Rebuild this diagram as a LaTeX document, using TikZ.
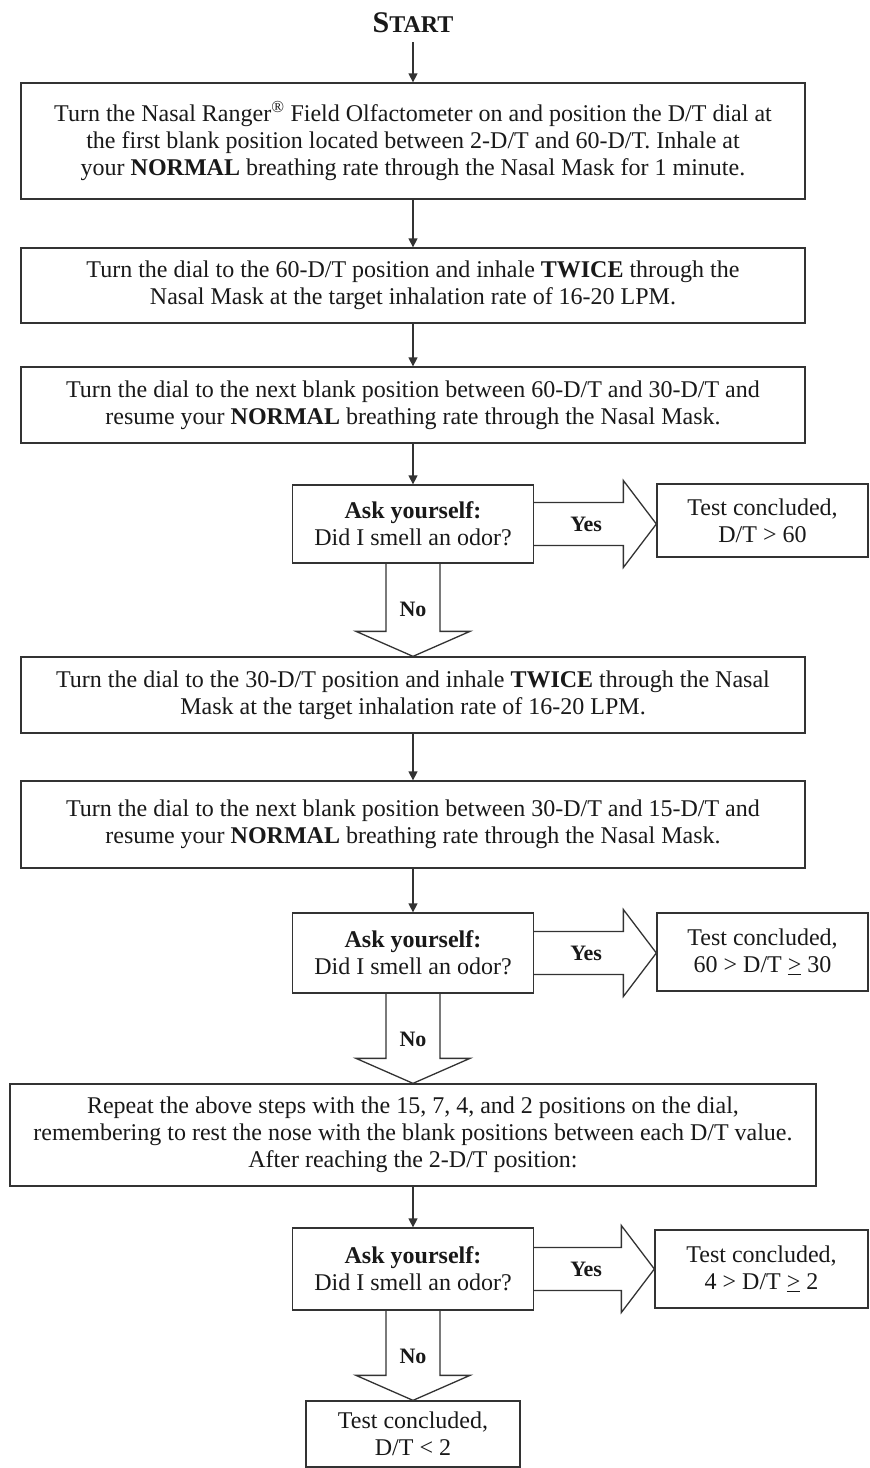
\documentclass[tikz,border=0pt]{standalone}
\usepackage{fontspec}
\setmainfont{Liberation Serif}
\usetikzlibrary{arrows.meta,calc}

\tikzset{
  stepbox/.style={draw=black!80, line width=1.3pt, align=center, inner sep=0pt,
    text=black!90, font=\fontsize{24}{27}\selectfont},
  flow/.style={draw=black!80, line width=1.3pt, -{Triangle[length=9pt,width=9pt]}},
  blockarr/.style={draw=black!80, line width=1.3pt, line join=miter},
  lbl/.style={text=black!90, font=\bfseries\fontsize{22}{26}\selectfont, inner sep=0pt}
}

% Yes arrow: question box -> result box
\newcommand{\yesarrow}[3]{%
  \draw[blockarr] let \p1=(#1.east), \p2=(#2.west) in
    (\x1,\y1+21.5pt) -- (\x2-33pt,\y1+21.5pt) -- (\x2-33pt,\y1+43.5pt) -- (\x2,\y1)
    -- (\x2-33pt,\y1-43.5pt) -- (\x2-33pt,\y1-21.5pt) -- (\x1,\y1-21.5pt);
  \node[lbl] (#3) at ($(#1.east)+(52,0)$) {Yes};
}
% No arrow: question box -> next box below
\newcommand{\noarrow}[3]{%
  \draw[blockarr] let \p1=(#1.south), \p2=(#2.north) in
    (\x1-27pt,\y1) -- (\x1-27pt,\y2+25pt) -- (\x1-57pt,\y2+25pt) -- (\x1,\y2)
    -- (\x1+57pt,\y2+25pt) -- (\x1+27pt,\y2+25pt) -- (\x1+27pt,\y1);
  \node[lbl] (#3) at ($(#1.south)+(0,46)$) {No};
}

\begin{document}
\begin{tikzpicture}[x=1pt,y=-1pt]
% page
\fill[white] (0,0) rectangle (870,1468);
\useasboundingbox (0,0) rectangle (870,1468);

% start
\node[text=black!90, font=\bfseries\fontsize{30}{32}\selectfont, inner sep=0pt] (start) at (413,23)
  {S{\fontsize{24}{26}\selectfont TART}};

% steps on the main line
\node[stepbox, minimum width=784pt, minimum height=116pt] (box1) at (413,141)
  {Turn the Nasal Ranger\textsuperscript{®} Field Olfactometer on and position the D/T dial at\\
   the first blank position located between 2-D/T and 60-D/T. Inhale at\\
   your \textbf{NORMAL} breathing rate through the Nasal Mask for 1 minute.};
\node[stepbox, minimum width=784pt, minimum height=75pt] (box2) at (413,285.5)
  {Turn the dial to the 60-D/T position and inhale \textbf{TWICE} through the\\
   Nasal Mask at the target inhalation rate of 16-20 LPM.};
\node[stepbox, minimum width=784pt, minimum height=76pt] (box3) at (413,405)
  {Turn the dial to the next blank position between 60-D/T and 30-D/T and\\
   resume your \textbf{NORMAL} breathing rate through the Nasal Mask.};
\node[stepbox, minimum width=241pt, minimum height=78pt] (ask1) at (413,524)
  {\textbf{Ask yourself:}\\ Did I smell an odor?};
\node[stepbox, minimum width=211pt, minimum height=73pt] (test1) at (762.5,520.5)
  {Test concluded,\\ D/T > 60};
\node[stepbox, minimum width=784pt, minimum height=76pt] (box4) at (413,695)
  {Turn the dial to the 30-D/T position and inhale \textbf{TWICE} through the Nasal\\
   Mask at the target inhalation rate of 16-20 LPM.};
\node[stepbox, minimum width=784pt, minimum height=87pt] (box5) at (413,824.5)
  {Turn the dial to the next blank position between 30-D/T and 15-D/T and\\
   resume your \textbf{NORMAL} breathing rate through the Nasal Mask.};
\node[stepbox, minimum width=241pt, minimum height=80pt] (ask2) at (413,953)
  {\textbf{Ask yourself:}\\ Did I smell an odor?};
\node[stepbox, minimum width=211pt, minimum height=78pt] (test2) at (762.5,952)
  {Test concluded,\\ 60 > D/T \underline{>} 30};
\node[stepbox, minimum width=806pt, minimum height=102pt] (box6) at (413,1135)
  {Repeat the above steps with the 15, 7, 4, and 2 positions on the dial,\\
   remembering to rest the nose with the blank positions between each D/T value.\\
   After reaching the 2-D/T position:};
\node[stepbox, minimum width=241pt, minimum height=82pt] (ask3) at (413,1269)
  {\textbf{Ask yourself:}\\ Did I smell an odor?};
\node[stepbox, minimum width=213pt, minimum height=78pt] (test3) at (761.5,1269)
  {Test concluded,\\ 4 > D/T \underline{>} 2};
\node[stepbox, minimum width=214pt, minimum height=66pt] (final) at (413,1434)
  {Test concluded,\\ D/T < 2};

% plain arrows
\draw[flow, shorten <=9pt] (start) -- (box1);
\draw[flow] (box1) -- (box2);
\draw[flow] (box2) -- (box3);
\draw[flow] (box3) -- (ask1);
\draw[flow] (box4) -- (box5);
\draw[flow] (box5) -- (ask2);
\draw[flow] (box6) -- (ask3);

% block arrows
\yesarrow{ask1}{test1}{yes1}
\yesarrow{ask2}{test2}{yes2}
\yesarrow{ask3}{test3}{yes3}
\noarrow{ask1}{box4}{no1}
\noarrow{ask2}{box6}{no2}
\noarrow{ask3}{final}{no3}
\end{tikzpicture}
\end{document}
